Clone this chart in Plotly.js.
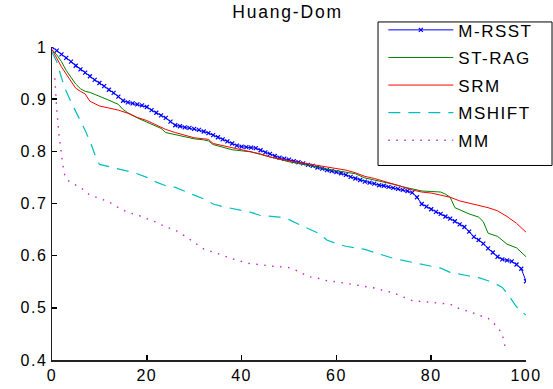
<!DOCTYPE html>
<html>
<head>
<meta charset="utf-8">
<script src="https://cdn.plot.ly/plotly-3.0.1.min.js"></script>
<style>
html,body{margin:0;padding:0;background:#fff;}
#chart{width:553px;height:389px;}
.gtitle{letter-spacing:1.8px;}
.legendtext{letter-spacing:1.5px;}
.xtick text,.ytick text{letter-spacing:1.5px;}
</style>
</head>
<body>
<div id="chart"></div>
<script>
const chartTitle = "Huang-Dom";
const seriesNames = ["M-RSST", "ST-RAG", "SRM", "MSHIFT", "MM"];

const mrsstX = [0,1,2,3,4,5,6,7,8,9,10,11,12,13,14,15,16,17,18,19,20,21,22,23,24,25,26,27,28,29,30,31,32,33,34,35,36,37,38,39,40,41,42,43,44,45,46,47,48,49,50,51,52,53,54,55,56,57,58,59,60,61,62,63,64,65,66,67,68,69,70,71,72,73,74,75,76,77,78,79,80,81,82,83,84,85,86,87,88,89,90,91,92,93,94,95,96,97,98,99,100];
const mrsstY = [1.000,0.993,0.986,0.979,0.972,0.964,0.957,0.951,0.944,0.937,0.931,0.925,0.918,0.912,0.905,0.897,0.894,0.892,0.890,0.888,0.885,0.879,0.874,0.869,0.864,0.857,0.850,0.848,0.846,0.845,0.843,0.841,0.838,0.835,0.831,0.827,0.823,0.819,0.815,0.811,0.809,0.808,0.807,0.806,0.802,0.798,0.795,0.791,0.788,0.786,0.784,0.781,0.779,0.777,0.774,0.772,0.769,0.767,0.764,0.762,0.760,0.758,0.755,0.751,0.748,0.745,0.742,0.740,0.738,0.735,0.734,0.732,0.730,0.728,0.726,0.724,0.721,0.712,0.699,0.694,0.689,0.684,0.680,0.675,0.671,0.666,0.660,0.655,0.646,0.636,0.630,0.623,0.614,0.606,0.598,0.593,0.591,0.589,0.583,0.575,0.551];

const stragX = [0,1,2,3,4,5,6,7,8,10,12,14,15,16,18,20,22,23,24,26,28,30,32,33,34,36,38,40,42,44,46,48,50,52,54,56,58,60,62,64,66,68,70,72,74,76,78,80,82,83,84,85,86,88,90,91,92,94,96,98,100];
const stragY = [0.995,0.985,0.972,0.955,0.942,0.929,0.920,0.915,0.913,0.906,0.898,0.890,0.880,0.874,0.864,0.856,0.848,0.844,0.836,0.832,0.828,0.824,0.822,0.820,0.813,0.808,0.803,0.801,0.799,0.794,0.789,0.784,0.780,0.777,0.773,0.769,0.766,0.763,0.760,0.757,0.749,0.745,0.742,0.737,0.732,0.728,0.724,0.723,0.722,0.718,0.712,0.692,0.688,0.680,0.674,0.665,0.643,0.637,0.622,0.615,0.598];

const srmX = [0,1,2,3,4,5,6,7,8,9,10,12,14,16,18,20,22,24,26,28,30,32,33,34,36,38,40,42,44,46,48,50,52,54,56,58,60,62,64,66,68,70,72,74,76,78,80,82,84,86,88,90,92,94,96,98,100];
const srmY = [0.995,0.978,0.962,0.948,0.934,0.921,0.915,0.910,0.896,0.892,0.887,0.883,0.879,0.873,0.865,0.859,0.851,0.842,0.836,0.831,0.826,0.824,0.823,0.815,0.811,0.807,0.803,0.800,0.795,0.789,0.785,0.782,0.779,0.776,0.773,0.770,0.767,0.764,0.759,0.752,0.748,0.743,0.738,0.732,0.726,0.722,0.720,0.716,0.712,0.705,0.701,0.696,0.692,0.686,0.675,0.662,0.645];

const mshiftX = [0,1,2,3,4,5,6,7,8,9,10,12,14,16,18,20,22,24,26,28,30,32,34,36,38,40,42,44,46,48,50,52,54,56,58,60,62,64,66,68,70,72,74,76,78,80,82,84,86,88,90,92,94,95,96,97,98,99,100];
const mshiftY = [0.990,0.972,0.941,0.915,0.895,0.877,0.860,0.840,0.820,0.795,0.775,0.771,0.766,0.762,0.757,0.750,0.741,0.734,0.731,0.723,0.716,0.709,0.699,0.694,0.690,0.686,0.683,0.677,0.676,0.674,0.669,0.660,0.652,0.644,0.630,0.623,0.618,0.615,0.612,0.606,0.600,0.595,0.591,0.587,0.583,0.580,0.576,0.568,0.564,0.561,0.558,0.552,0.544,0.539,0.528,0.515,0.502,0.493,0.486];

const mmX = [0.6,1,1.5,2,2.5,3,4,6,8,10,12,14,16,18,20,22,24,26,28,30,32,34,36,38,40,42,44,46,48,50,52,54,56,58,60,62,64,66,68,70,72,74,76,78,80,82,84,86,88,90,92,93,94,95,95.6];
const mmY = [0.940,0.880,0.830,0.790,0.760,0.747,0.740,0.731,0.716,0.710,0.703,0.692,0.683,0.678,0.671,0.664,0.655,0.649,0.638,0.625,0.613,0.607,0.600,0.594,0.589,0.584,0.583,0.580,0.579,0.577,0.570,0.560,0.557,0.552,0.550,0.547,0.545,0.542,0.538,0.533,0.529,0.521,0.514,0.512,0.510,0.509,0.507,0.498,0.493,0.486,0.480,0.472,0.463,0.450,0.425];

const xTicks = [0,20,40,60,80,100];
const yTicks = [0.4,0.5,0.6,0.7,0.8,0.9,1];
const yTickText = ["0.4","0.5","0.6","0.7","0.8","0.9","1"];

const FONT = "Liberation Sans, Arial, sans-serif";

const traces = [
  {x: mrsstX, y: mrsstY, name: seriesNames[0], mode: "lines+markers",
   line: {color: "#0000ff", width: 1}, marker: {symbol: "x-thin", size: 4, line: {color: "#0000ff", width: 1.2}, color: "#0000ff"}},
  {x: stragX, y: stragY, name: seriesNames[1], mode: "lines", line: {color: "#008000", width: 1}},
  {x: srmX, y: srmY, name: seriesNames[2], mode: "lines", line: {color: "#ff0000", width: 1}},
  {x: mshiftX, y: mshiftY, name: seriesNames[3], mode: "lines", line: {color: "#00bfbf", width: 1.2, dash: "12px,8px"}},
  {x: mmX, y: mmY, name: seriesNames[4], mode: "lines", line: {color: "#d020d0", width: 1.4, dash: "1.5px,6.5px"}}
];
traces.forEach((t, i) => { t.legendgroup = "g" + i; });

const layout = {
  width: 553, height: 389,
  margin: {l: 52, r: 27, t: 35, b: 29, pad: 0},
  paper_bgcolor: "#fff", plot_bgcolor: "#fff",
  font: {family: FONT, size: 16, color: "#000"},
  title: {text: chartTitle, font: {family: FONT, size: 17.5, color: "#000"}, x: 0.52, xanchor: "center", y: 0.985, yanchor: "top"},
  showlegend: true,
  legend: {
    x: 0.699, xanchor: "left", y: 1.1108, yanchor: "top",
    borderwidth: 0, bgcolor: "rgba(0,0,0,0)",
    font: {family: FONT, size: 17, color: "#000"},
    traceorder: "grouped", tracegroupgap: 2.5, itemwidth: 65
  },
  shapes: [
    {type: "rect", xref: "paper", yref: "paper", x0: 0.6878, x1: 1.0549, y0: 0.6215, y1: 1.08,
     line: {color: "#000", width: 1}, fillcolor: "rgba(0,0,0,0)", layer: "above"}
  ],
  xaxis: {
    range: [0, 100], tickvals: xTicks, ticks: "inside", ticklen: 5, tickcolor: "#000", tickwidth: 1.5,
    showline: true, linecolor: "#222", linewidth: 1.5, mirror: false, showgrid: false, zeroline: false,
    tickfont: {family: FONT, size: 16, color: "#000"}
  },
  yaxis: {
    range: [0.4, 1], tickvals: yTicks, ticktext: yTickText, ticks: "inside", ticklen: 5, tickcolor: "#000", tickwidth: 1.5,
    showline: true, linecolor: "#222", linewidth: 1.5, mirror: false, showgrid: false, zeroline: false,
    tickfont: {family: FONT, size: 16, color: "#000"}
  }
};

Plotly.newPlot("chart", traces, layout, {displayModeBar: false, staticPlot: true});
</script>
</body>
</html>
